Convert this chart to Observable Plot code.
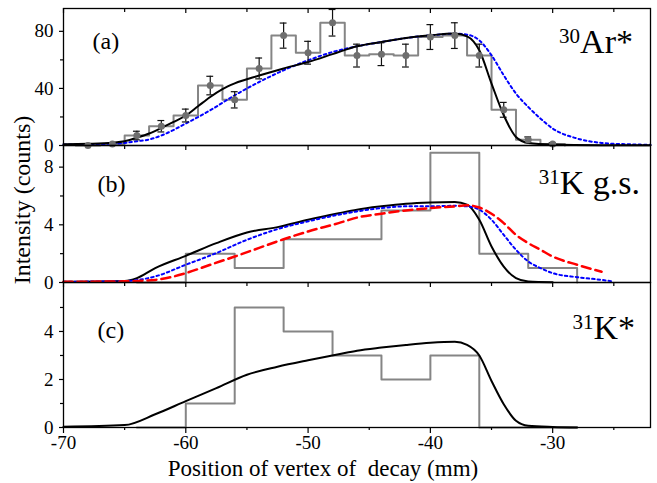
<!DOCTYPE html>
<html><head><meta charset="utf-8">
<script src="https://cdn.jsdelivr.net/npm/d3@7"></script>
<script src="https://cdn.jsdelivr.net/npm/@observablehq/plot@0.6"></script>
<style>
body{margin:0;background:#fff;}
#wrap{position:relative;width:657px;height:483px;font-family:"Liberation Serif","Times New Roman",serif;color:#000;overflow:hidden;}
.panel{position:absolute;left:0;}
.lbl{position:absolute;white-space:pre;line-height:1;}
</style></head><body><div id="wrap"></div>
<script>
// ---------- shared axis ticks ----------
const xMajor = [-70, -60, -50, -40, -30];
const xMinor = [-65, -55, -45, -35, -25];

// ---------- panel (a): 30Ar* ----------
const aCenters = [-68, -66, -64, -62, -60, -58, -56, -54, -52, -50, -48, -46, -44, -42, -40, -38, -36, -34, -32, -30];
const aCounts  = [0, 1, 7, 13.5, 21, 42, 32, 54, 77, 65, 86, 63, 64, 63, 76, 77, 63, 25, 4, 1];
const aErrors  = [0, 0, 3, 4, 4.5, 6.5, 5.7, 7.3, 8.8, 8, 9.3, 8, 8, 8, 8.7, 9, 8, 5.2, 2, 1];
const aBlackX  = [-70, -68, -66, -65, -64, -63, -62, -61, -60, -59, -58, -57, -56, -54, -52, -50, -48, -46, -44, -42, -40, -38, -37, -36, -35, -34, -33, -32, -30, -26, -22];
const aBlack   = [0.9, 1.2, 2, 3, 5.5, 8.4, 12.3, 16.5, 21, 27.5, 34, 39.5, 43.5, 49, 54, 58.5, 64, 69.5, 72.5, 75.3, 77.2, 78.4, 76.5, 66.7, 43.4, 21.2, 6, 1.8, 0.7, 0.2, 0.1];
const aBlueX   = [-70, -66, -65, -64, -63, -62, -60, -58, -56, -54, -52, -50, -48, -46, -44, -42, -40, -38, -37, -36, -35, -34, -33, -32, -31, -30, -28, -26, -24, -22];
const aBlue    = [0.7, 1.3, 1.8, 3, 4.2, 7, 15.4, 24.7, 35.2, 44.5, 52.7, 59.7, 65.5, 69.5, 72.5, 75.3, 77.2, 78.4, 77.7, 73.7, 63.2, 49.2, 36.4, 27, 18.9, 11.9, 4.9, 1.8, 0.9, 0.5];

// ---------- panel (b): 31K g.s. ----------
const bLefts  = [-64, -60, -56, -52, -48, -44, -40, -36, -32];
const bCounts = [0, 2, 1, 3, 3, 5, 9, 2, 1];
const bBlackX = [-70, -65, -64, -62.5, -60, -57.5, -55, -52.5, -50, -47.5, -46, -44, -42, -40, -38, -37, -36, -35, -34, -33, -32, -30];
const bBlack  = [0.05, 0.1, 0.3, 1.0, 1.85, 2.73, 3.47, 3.84, 4.35, 4.8, 5.05, 5.28, 5.46, 5.55, 5.58, 5.4, 4.35, 2.5, 1.1, 0.3, 0.07, 0.02];
const bBlueX  = [-70, -65, -62.5, -60, -57.5, -55, -52.5, -50, -47.5, -46, -44, -42, -40, -38, -37, -36, -35, -34, -33, -32, -31, -30, -28, -26, -25];
const bBlue   = [0.05, 0.1, 0.42, 1.23, 2.04, 2.96, 3.7, 4.24, 4.7, 4.93, 5.16, 5.28, 5.28, 5.32, 5.28, 5.05, 4.35, 3.3, 2.27, 1.46, 1.0, 0.65, 0.37, 0.18, 0.07];
const bRedX   = [-70, -65, -62.5, -60, -58, -56, -54, -52, -50, -47.5, -46, -44, -42, -40, -38, -37, -36, -35, -34, -33, -32, -31, -30, -28, -26];
const bRed    = [0.05, 0.08, 0.18, 0.65, 1.23, 1.8, 2.4, 3.0, 3.54, 4.12, 4.5, 4.77, 5.0, 5.16, 5.28, 5.35, 5.2, 4.77, 4.12, 3.3, 2.73, 2.27, 1.8, 1.23, 0.75];

// ---------- panel (c): 31K* ----------
const cLefts  = [-64, -60, -56, -52, -48, -44, -40, -36, -32];
const cCounts = [0, 1, 5, 4, 3, 2, 3, 0, 0];
const cBlackX = [-70, -65, -62.5, -60, -57.5, -55, -52.5, -50, -47.5, -46, -44, -42, -40, -38, -37, -36, -35, -34, -33, -32, -30, -28];
const cBlack  = [0.03, 0.1, 0.55, 1.1, 1.64, 2.2, 2.53, 2.8, 3.05, 3.2, 3.33, 3.44, 3.53, 3.57, 3.44, 3.0, 1.94, 0.97, 0.28, 0.07, 0.02, 0];

// ---------- helpers ----------
const zip = (xs, ys) => xs.map((x, i) => ({x, y: ys[i]}));
function stepOutline(lefts, counts, w) {
  const pts = [{x: lefts[0], y: 0}];
  lefts.forEach((l, i) => pts.push({x: l, y: counts[i]}));
  const end = lefts[lefts.length - 1] + w;
  pts.push({x: end, y: counts[counts.length - 1]});
  pts.push({x: end, y: 0});
  return pts;
}
const GRAY = "#858585";
const histLine = (pts) => Plot.line(pts, {x: "x", y: "y", curve: "step-after", stroke: GRAY, strokeWidth: 2});
const curve = (pts, opts) => Plot.line(pts, {x: "x", y: "y", curve: "monotone-x", strokeWidth: 2, ...opts});

function panel({H, yMax, yTicks, yMinor, marks, label, labelDx, labelDy, bottom}) {
  const axes = [
    Plot.frame({stroke: "#000", strokeWidth: 1.3}),
    Plot.tickX(xMajor, {x: d => d, insetBottom: H - 5, stroke: "#000", strokeWidth: 1.2}),
    Plot.tickX(xMinor, {x: d => d, insetBottom: H - 4, stroke: "#000", strokeWidth: 1.2}),
    Plot.axisY({ticks: yTicks, tickSize: 4, tickPadding: 6, tickFormat: d => String(d), label: null, fontSize: 19, strokeWidth: 1.2}),
    Plot.axisY({ticks: yMinor, tickSize: 3, tickFormat: () => "", label: null, strokeWidth: 1.2}),
    Plot.text([label], {text: d => d, frameAnchor: "top-left", dx: labelDx, dy: labelDy, textAnchor: "start", lineAnchor: "middle", fontSize: 24})
  ];
  if (bottom) {
    axes.push(Plot.axisX({anchor: "bottom", ticks: xMajor, tickSize: 6, tickPadding: 2, tickFormat: d => String(d), label: null, fontSize: 19, strokeWidth: 1.2}));
    axes.push(Plot.axisX({anchor: "bottom", ticks: xMinor, tickSize: 3, tickFormat: () => "", label: null, strokeWidth: 1.2}));
  }
  return Plot.plot({
    width: 657, height: H,
    marginLeft: 63, marginRight: 7, marginTop: 0, marginBottom: 0,
    x: {domain: [-70, -22], axis: null},
    y: {domain: [0, yMax], axis: null},
    style: {overflow: "visible", background: "transparent", fontFamily: "'Liberation Serif', 'Times New Roman', serif", fontSize: "19px", color: "#000"},
    marks: [...marks, ...axes]
  });
}

// ---------- panel (a) ----------
const aPts = aCenters.map((c, i) => ({x: c, y: aCounts[i], e: aErrors[i]}));
const aErrPts = aPts.filter(d => d.e > 0);
const plotA = panel({
  H: 137, yMax: 96, yTicks: [0, 40, 80], yMinor: [20, 60], label: "(a)", labelDx: 29, labelDy: 33,
  marks: [
    histLine(stepOutline(aCenters.map(c => c - 1), aCounts, 2)),
    curve(zip(aBlueX, aBlue), {stroke: "#0000ff", strokeDasharray: "2.5,3"}),
    curve(zip(aBlackX, aBlack), {stroke: "#000"}),
    Plot.ruleX(aErrPts, {x: "x", y1: d => d.y - d.e, y2: d => d.y + d.e, stroke: "#111", strokeWidth: 1.2}),
    Plot.ruleY(aErrPts, {y: d => d.y + d.e, x1: d => d.x - 0.28, x2: d => d.x + 0.28, stroke: "#111", strokeWidth: 1.2}),
    Plot.ruleY(aErrPts, {y: d => d.y - d.e, x1: d => d.x - 0.28, x2: d => d.x + 0.28, stroke: "#111", strokeWidth: 1.2}),
    Plot.dot(aPts, {x: "x", y: "y", r: 3.5, fill: "#6e6e6e", stroke: "none"})
  ]
});

// ---------- panel (b) ----------
const plotB = panel({
  H: 137, yMax: 9.5, yTicks: [0, 4, 8], yMinor: [2, 6], label: "(b)", labelDx: 34, labelDy: 39,
  marks: [
    histLine(stepOutline(bLefts, bCounts, 4)),
    curve(zip(bBlackX, bBlack), {stroke: "#000"}),
    curve(zip(bBlueX, bBlue), {stroke: "#0000ff", strokeDasharray: "2.5,3"}),
    curve(zip(bRedX, bRed), {stroke: "#ff0000", strokeWidth: 2.5, strokeDasharray: "9,5"})
  ]
});

// ---------- panel (c) ----------
const plotC = panel({
  H: 145, yMax: 6.04, yTicks: [0, 2, 4], yMinor: [1, 3, 5], label: "(c)", labelDx: 34, labelDy: 48, bottom: true,
  marks: [
    histLine(stepOutline(cLefts, cCounts, 4)),
    curve(zip(cBlackX, cBlack), {stroke: "#000"})
  ]
});

const wrap = document.getElementById("wrap");
function place(node, top) {
  const d = document.createElement("div");
  d.className = "panel";
  d.style.top = top + "px";
  d.appendChild(node);
  wrap.appendChild(d);
}
place(plotA, 8);
place(plotB, 145);
place(plotC, 282);

function label(html, css) {
  const d = document.createElement("div");
  d.className = "lbl";
  d.innerHTML = html;
  Object.assign(d.style, css);
  wrap.appendChild(d);
}
const sup = t => `<span style="font-size:21px;position:relative;top:-10px">${t}</span>`;
label(sup("30") + "Ar*", {right: "24px", top: "25px", fontSize: "34px"});
label(sup("31") + "K g.s.", {right: "17px", top: "166px", fontSize: "34px"});
label(sup("31") + "K*", {right: "22px", top: "311px", fontSize: "34px"});
label("Intensity (counts)", {left: "22px", top: "200px", fontSize: "24px", transform: "translate(-50%,-50%) rotate(-90deg)"});
label("Position of vertex of  decay (mm)", {left: "323px", top: "468px", fontSize: "23px", transform: "translate(-50%,-50%)"});
</script>
</body></html>
